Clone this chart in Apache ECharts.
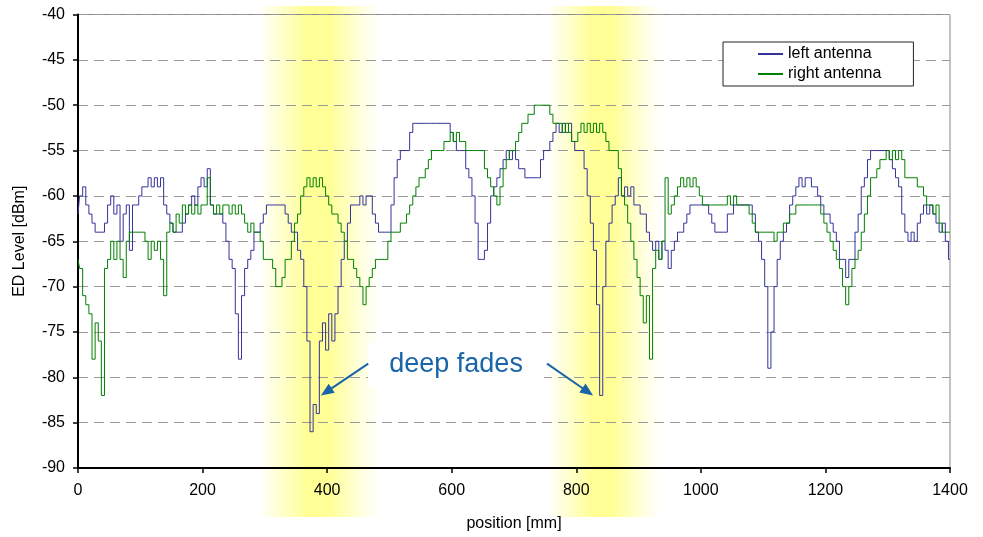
<!DOCTYPE html>
<html>
<head>
<meta charset="utf-8">
<title>ED Level vs position</title>
<script src="https://cdn.jsdelivr.net/npm/echarts@6/dist/echarts.min.js"></script>
<style>
  html, body { margin: 0; padding: 0; background: #fff; }
  #chart { width: 983px; height: 537px; }
</style>
</head>
<body>
<div id="chart"></div>
<script>
// readings every 5 mm, from 0 to 1400 mm
var SAMPLE_STEP_MM = 5;

// ED level [dBm], left antenna (one row = 50 mm)
var leftAntenna = [
  -62,-60,-59,-61,-62,-63,-64,-64,-64,-63,
  -61,-60,-62,-61,-65,-62,-61,-66,-61,-61,
  -60,-59,-59,-58,-59,-58,-59,-58,-61,-62,
  -63,-64,-64,-64,-63,-62,-61,-60,-61,-59,
  -58,-59,-57,-61,-62,-62,-62,-63,-65,-67,
  -68,-73,-78,-71,-68,-67,-66,-64,-64,-63,
  -62,-61,-61,-61,-61,-61,-61,-62,-63,-64,
  -64,-66,-67,-70,-76,-86,-83,-84,-76,-74,
  -77,-73,-76,-73,-70,-67,-65,-63,-61,-61,
  -61,-60,-61,-60,-60,-62,-63,-64,-64,-64,
  -64,-61,-58,-56,-55,-55,-55,-53,-52,-52,
  -52,-52,-52,-52,-52,-52,-52,-52,-52,-52,
  -53,-54,-55,-55,-55,-57,-58,-60,-63,-67,
  -67,-66,-63,-60,-59,-58,-57,-56,-55,-56,
  -55,-56,-57,-57,-58,-58,-58,-58,-58,-56,
  -55,-55,-54,-53,-52,-53,-52,-53,-52,-54,
  -55,-55,-55,-57,-60,-63,-66,-72,-82,-70,
  -65,-63,-61,-60,-58,-60,-59,-60,-59,-61,
  -61,-62,-62,-64,-65,-66,-65,-67,-65,-66,
  -68,-66,-65,-64,-64,-63,-62,-61,-61,-61,
  -61,-61,-61,-62,-63,-64,-64,-64,-64,-62,
  -62,-61,-61,-61,-61,-61,-61,-62,-64,-65,
  -67,-70,-79,-75,-70,-67,-65,-64,-63,-61,
  -60,-59,-58,-59,-58,-58,-59,-59,-60,-61,
  -62,-62,-63,-64,-65,-67,-67,-69,-67,-67,
  -64,-62,-59,-58,-56,-55,-55,-55,-55,-55,
  -55,-56,-57,-58,-59,-62,-64,-65,-64,-65,
  -63,-62,-61,-62,-61,-62,-63,-64,-63,-65,
  -67
];

// ED level [dBm], right antenna
var rightAntenna = [
  -67,-68,-71,-72,-73,-78,-74,-76,-82,-68,
  -67,-65,-67,-65,-67,-69,-65,-64,-64,-64,
  -64,-64,-65,-67,-65,-66,-65,-67,-71,-64,
  -63,-64,-62,-63,-61,-62,-61,-62,-61,-62,
  -61,-61,-58,-61,-62,-61,-62,-61,-61,-62,
  -61,-62,-61,-62,-63,-64,-63,-64,-64,-65,
  -67,-67,-67,-68,-70,-70,-69,-67,-67,-65,
  -63,-62,-60,-59,-58,-59,-58,-59,-58,-59,
  -60,-61,-62,-62,-63,-64,-65,-67,-67,-68,
  -69,-70,-72,-70,-69,-68,-67,-67,-67,-67,
  -65,-64,-64,-64,-63,-63,-62,-61,-60,-59,
  -58,-58,-57,-56,-55,-55,-55,-55,-54,-54,
  -53,-54,-53,-54,-54,-55,-55,-55,-55,-55,
  -55,-57,-58,-59,-60,-61,-59,-57,-56,-55,
  -55,-54,-53,-52,-52,-51,-51,-50,-50,-50,
  -50,-50,-51,-52,-52,-52,-53,-52,-53,-54,
  -54,-53,-52,-53,-52,-53,-52,-53,-52,-53,
  -54,-55,-55,-55,-57,-60,-61,-63,-65,-67,
  -69,-71,-74,-71,-78,-68,-66,-67,-65,-58,
  -62,-61,-60,-59,-58,-59,-58,-59,-58,-59,
  -60,-61,-61,-61,-61,-61,-61,-61,-61,-60,
  -61,-60,-61,-61,-61,-61,-62,-63,-64,-64,
  -64,-64,-64,-64,-65,-64,-64,-63,-63,-62,
  -62,-61,-61,-61,-61,-61,-61,-61,-61,-62,
  -63,-64,-65,-66,-67,-68,-70,-72,-70,-68,
  -67,-66,-64,-62,-60,-58,-58,-57,-56,-56,
  -55,-56,-55,-56,-55,-56,-58,-58,-58,-58,
  -59,-59,-60,-61,-61,-62,-61,-63,-64,-64,
  -64
];

var seriesNames = ['left antenna', 'right antenna'];
var seriesColors = ['#333399', '#008000'];

// highlighted regions [from, to] in mm, and where the arrows point
var fadeBandsMm = [[290, 485], [753, 936]];
var fadeLabel = { text: 'deep fades', at: [607, -78.6] };
var fadeArrows = [
  { from: [466, -78.5], to: [390, -82] },
  { from: [753, -78.5], to: [827, -82] }
];

var FONT = '"Liberation Sans", Arial, sans-serif';

function toPoints(values) {
  return values.map(function (v, i) { return [i * SAMPLE_STEP_MM, v]; });
}

var chart = echarts.init(document.getElementById('chart'), null, { renderer: 'canvas' });

var option = {
  animation: false,
  backgroundColor: '#fff',
  textStyle: { fontFamily: FONT, color: '#000' },
  grid: {
    left: 78, right: 33, top: 14.5, bottom: 67,
    show: true, borderColor: '#888', borderWidth: 1, backgroundColor: 'transparent'
  },
  legend: {
    data: seriesNames,
    orient: 'vertical',
    left: 723, top: 42,
    padding: [4, 32, 4, 35],
    itemGap: 4,
    itemWidth: 25, itemHeight: 2,
    icon: 'rect',
    borderColor: '#222', borderWidth: 1,
    backgroundColor: '#fff',
    textStyle: { fontFamily: FONT, fontSize: 16, color: '#000', lineHeight: 16 }
  },
  xAxis: {
    type: 'value',
    min: 0, max: 1400, interval: 200,
    name: 'position [mm]',
    nameLocation: 'middle',
    nameGap: 48,
    nameTextStyle: { fontFamily: FONT, fontSize: 16, color: '#000' },
    axisLine: { onZero: false, lineStyle: { color: '#000', width: 2 } },
    axisTick: { length: 5, lineStyle: { color: '#000', width: 1.5 } },
    axisLabel: {
      fontFamily: FONT, fontSize: 16, color: '#000', margin: 15,
      formatter: function (v) { return String(v); }
    },
    splitLine: { show: false }
  },
  yAxis: {
    type: 'value',
    min: -90, max: -40, interval: 5,
    name: 'ED Level [dBm]',
    nameLocation: 'middle',
    nameGap: 50,
    nameTextStyle: { fontFamily: FONT, fontSize: 16, color: '#000' },
    axisLine: { show: true, onZero: false, lineStyle: { color: '#000', width: 2 } },
    axisTick: { show: true, length: 5, lineStyle: { color: '#000', width: 1.5 } },
    axisLabel: { fontFamily: FONT, fontSize: 16, color: '#000', margin: 13 },
    splitLine: { show: true, lineStyle: { color: '#999', type: [10, 6], width: 1 } }
  },
  series: [
    {
      name: seriesNames[0], type: 'line', data: toPoints(leftAntenna),
      step: 'middle',
      symbol: 'none', showSymbol: false, z: 3,
      itemStyle: { color: seriesColors[0] },
      lineStyle: { color: seriesColors[0], width: 1 }
    },
    {
      name: seriesNames[1], type: 'line', data: toPoints(rightAntenna),
      step: 'middle',
      symbol: 'none', showSymbol: false, z: 4,
      itemStyle: { color: seriesColors[1] },
      lineStyle: { color: seriesColors[1], width: 1 }
    }
  ]
};

chart.setOption(option);

// yellow bands, annotation text and arrows, placed through the axes
function drawOverlay() {
  var els = [];
  var bandTop = 6, bandBottom = 517;
  fadeBandsMm.forEach(function (b) {
    var x0 = chart.convertToPixel({ xAxisIndex: 0 }, b[0]);
    var x1 = chart.convertToPixel({ xAxisIndex: 0 }, b[1]);
    els.push({
      type: 'rect', silent: true, z: -10,
      shape: { x: x0, y: bandTop, width: x1 - x0, height: bandBottom - bandTop },
      style: {
        fill: new echarts.graphic.LinearGradient(0, 0, 1, 0, [
          { offset: 0, color: 'rgba(255,255,150,0)' },
          { offset: 0.22, color: 'rgba(255,255,150,0.55)' },
          { offset: 0.4, color: 'rgba(255,255,150,1)' },
          { offset: 0.58, color: 'rgba(255,255,150,1)' },
          { offset: 0.85, color: 'rgba(255,255,150,0.3)' },
          { offset: 1, color: 'rgba(255,255,150,0)' }
        ])
      }
    });
  });

  var c = chart.convertToPixel({ gridIndex: 0 }, fadeLabel.at);
  els.push({
    type: 'rect', silent: true, z: 20,
    shape: { x: c[0] - 88, y: c[1] - 22, width: 176, height: 44 },
    style: { fill: '#fff' }
  });
  els.push({
    type: 'text', silent: true, z: 21,
    x: c[0], y: c[1],
    style: {
      text: fadeLabel.text, fill: '#1a64aa',
      font: '27px ' + FONT, align: 'center', verticalAlign: 'middle'
    }
  });

  fadeArrows.forEach(function (a) {
    var p0 = chart.convertToPixel({ gridIndex: 0 }, a.from);
    var p1 = chart.convertToPixel({ gridIndex: 0 }, a.to);
    var dx = p1[0] - p0[0], dy = p1[1] - p0[1];
    var len = Math.sqrt(dx * dx + dy * dy);
    var ux = dx / len, uy = dy / len;
    var headLen = 13, headHalf = 5.5;
    var bx = p1[0] - ux * headLen, by = p1[1] - uy * headLen;
    els.push({
      type: 'line', silent: true, z: 22,
      shape: { x1: p0[0], y1: p0[1], x2: bx + ux * 2, y2: by + uy * 2 },
      style: { stroke: '#1a64aa', lineWidth: 2 }
    });
    els.push({
      type: 'polygon', silent: true, z: 22,
      shape: { points: [
        [p1[0], p1[1]],
        [bx - uy * headHalf, by + ux * headHalf],
        [bx + uy * headHalf, by - ux * headHalf]
      ] },
      style: { fill: '#1a64aa' }
    });
  });

  chart.setOption({ graphic: { elements: els } });
}

drawOverlay();
</script>
</body>
</html>
